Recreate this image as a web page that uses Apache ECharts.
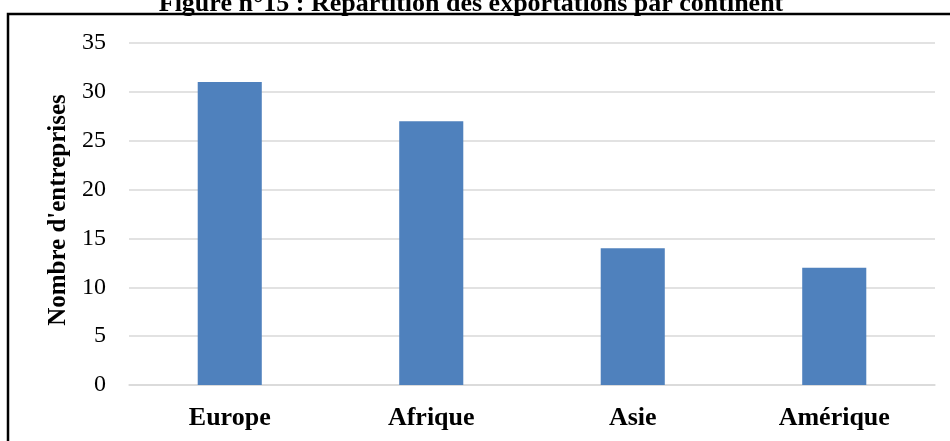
<!DOCTYPE html>
<html>
<head>
<meta charset="utf-8">
<script src="https://cdn.jsdelivr.net/npm/echarts@6/dist/echarts.min.js"></script>
<style>html,body{margin:0;padding:0;background:#fff;}#c{width:950px;height:441px;}</style>
</head>
<body>
<div id="c"></div>
<script>
const titleText = "Figure n°15 : Répartition des exportations par continent";
const categories = ["Europe", "Afrique", "Asie", "Amérique"];
const values = [31, 27, 14, 12];
const yTicks = { min: 0, max: 35, interval: 5 };
const yName = "Nombre d'entreprises";

const chart = echarts.init(document.getElementById('c'), null, { renderer: 'canvas' });
const serif = '"Liberation Serif", "Times New Roman", serif';
chart.setOption({
  animation: false,
  backgroundColor: '#fff',
  grid: { left: 129, right: 15, top: 43, bottom: 56 },
  xAxis: {
    type: 'category',
    data: categories,
    axisLine: { lineStyle: { color: '#d9d9d9', width: 1.5 } },
    axisTick: { show: false },
    axisLabel: { fontFamily: serif, fontWeight: 'bold', fontSize: 26, color: '#000', margin: 20 }
  },
  yAxis: {
    type: 'value',
    min: yTicks.min, max: yTicks.max, interval: yTicks.interval,
    name: yName,
    nameLocation: 'middle',
    nameGap: 58,
    nameTextStyle: { fontFamily: serif, fontWeight: 'bold', fontSize: 25, color: '#000', padding: [0, 0, 0, 8] },
    axisLine: { show: false },
    axisTick: { show: false },
    axisLabel: { fontFamily: serif, fontSize: 24, color: '#000', margin: 23 },
    splitLine: { lineStyle: { color: '#d9d9d9', width: 1.5 } }
  },
  series: [{
    type: 'bar',
    data: values,
    barWidth: '31.8%',
    itemStyle: { color: '#4f81bd' }
  }],
  graphic: [
    {
      type: 'rect',
      shape: { x: 8, y: 14, width: 960, height: 460 },
      style: { fill: 'none', stroke: '#000', lineWidth: 2.5 },
      z: 100
    },
    {
      type: 'text',
      x: 471, y: 17,
      style: {
        text: titleText,
        font: 'bold 26px ' + serif,
        fill: '#000',
        textAlign: 'center',
        textVerticalAlign: 'bottom'
      },
      z: 100
    }
  ]
});
</script>
</body>
</html>
